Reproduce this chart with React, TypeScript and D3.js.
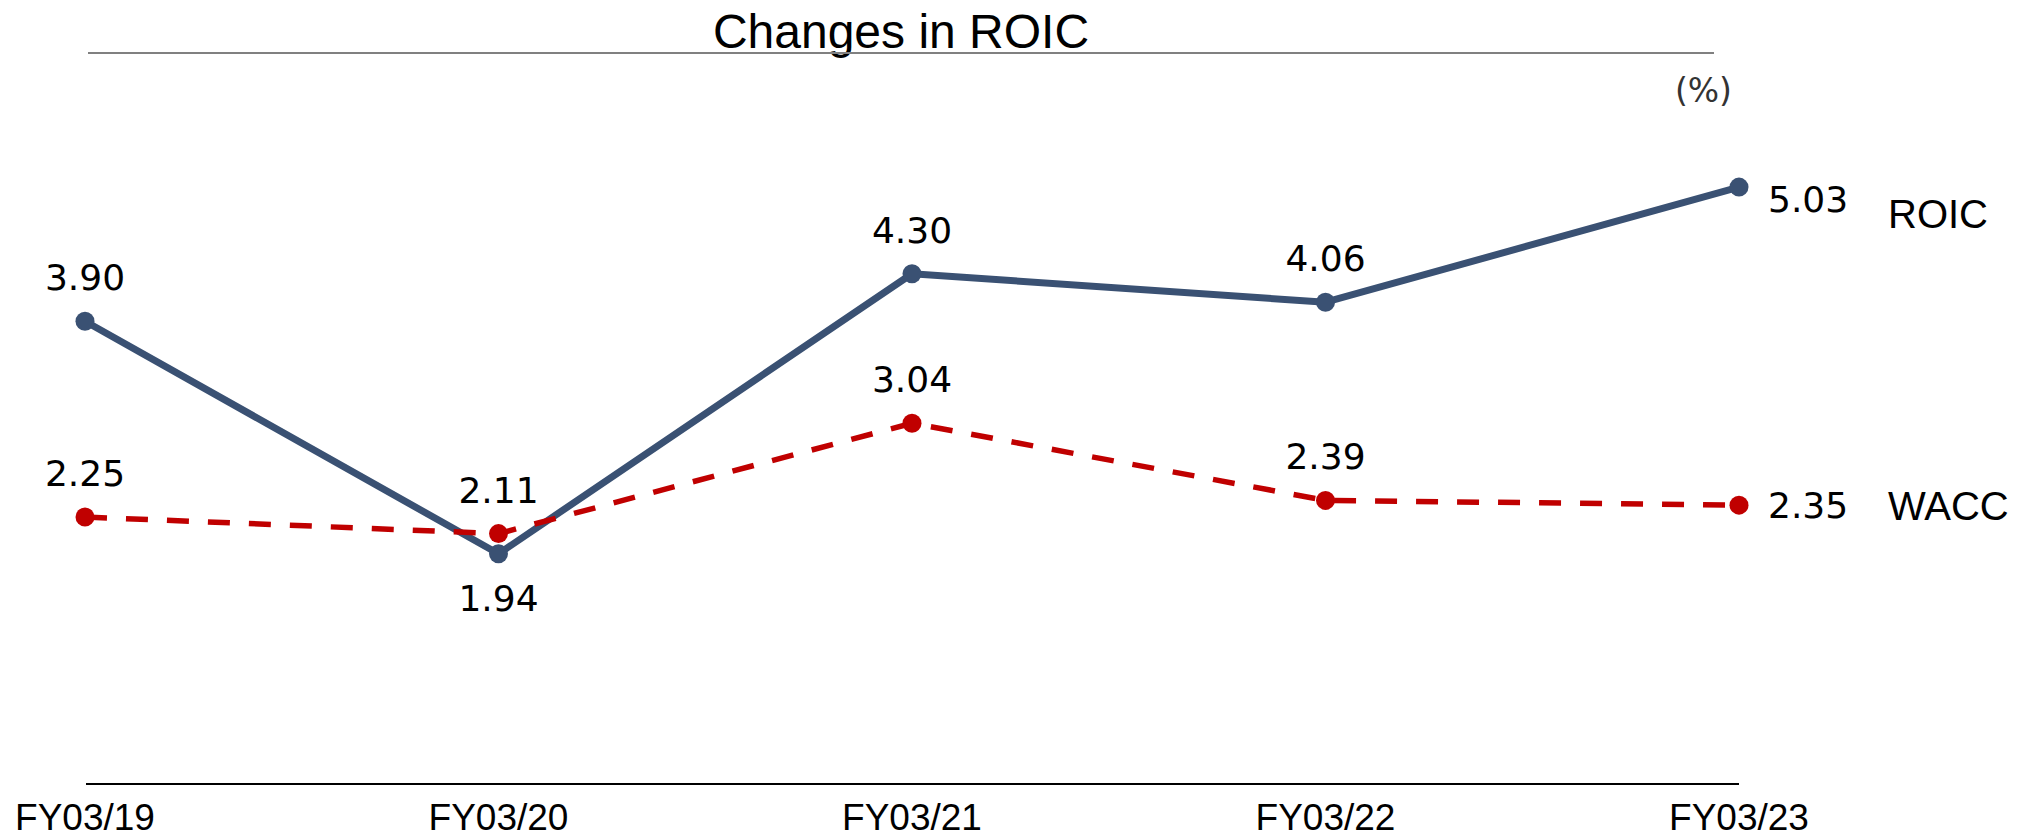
import React from "react";
import * as d3 from "d3";

const categories = ["FY03/19", "FY03/20", "FY03/21", "FY03/22", "FY03/23"];
const roicValues = [3.9, 1.94, 4.3, 4.06, 5.03];
const waccValues = [2.25, 2.11, 3.04, 2.39, 2.35];
const roicLabelPos = ["above", "below", "above", "above", "right"];
const waccLabelPos = ["above", "above", "above", "above", "right"];
const title = "Changes in ROIC";
const unitLabel = "(%)";

const W = 2039;
const H = 839;
const ROIC_COLOR = "#3A5173";
const WACC_COLOR = "#C00000";
const NUM_FONT = "'DejaVu Sans', Verdana, sans-serif";
const TXT_FONT = "'Liberation Sans', Arial, sans-serif";

export default function App() {
  const x = d3.scalePoint<string>().domain(categories).range([85, 1739]);
  const y = d3.scaleLinear().domain([0, 6]).range([784, 72]);

  const line = d3
    .line<number>()
    .x((_, i) => x(categories[i]) as number)
    .y((d) => y(d));

  const labelProps = (v: number, i: number, pos: string, seriesName: string) => {
    const cx = x(categories[i]) as number;
    const cy = y(v);
    if (pos === "above") return { x: cx, y: cy - 31, anchor: "middle" };
    if (pos === "below") return { x: cx, y: cy + 57, anchor: "middle" };
    return { x: cx + 29, y: cy + (seriesName === "ROIC" ? 25 : 13), anchor: "start" };
  };

  const series = [
    { name: "ROIC", values: roicValues, pos: roicLabelPos, color: ROIC_COLOR, dash: undefined, legendDy: 41 },
    { name: "WACC", values: waccValues, pos: waccLabelPos, color: WACC_COLOR, dash: "22 19", legendDy: 15 },
  ];

  const last = categories.length - 1;

  return (
    <svg
      width={W}
      height={H}
      style={{ position: "absolute", left: 0, top: 0, background: "#fff" }}
    >
      <text
        x={901}
        y={48}
        textAnchor="middle"
        fontFamily={TXT_FONT}
        fontSize={48}
        fill="#000"
      >
        {title}
      </text>
      <line x1={88} x2={1714} y1={53} y2={53} stroke="#808080" strokeWidth={2} />
      <text
        x={1732}
        y={102}
        textAnchor="end"
        fontFamily={NUM_FONT}
        fontSize={33}
        fill="#333"
      >
        {unitLabel}
      </text>

      <line x1={86} x2={1739} y1={y(0)} y2={y(0)} stroke="#000" strokeWidth={2} />
      {categories.map((c) => (
        <text
          key={c}
          x={x(c)}
          y={830}
          textAnchor="middle"
          fontFamily={TXT_FONT}
          fontSize={37}
          fill="#000"
        >
          {c}
        </text>
      ))}

      {series.map((s) => (
        <g key={s.name}>
          <path
            d={line(s.values) || ""}
            fill="none"
            stroke={s.color}
            strokeWidth={s.dash ? 5.5 : 7}
            strokeDasharray={s.dash}
            strokeLinejoin="round"
          />
          {s.values.map((v, i) => (
            <circle key={i} cx={x(categories[i])} cy={y(v)} r={9.5} fill={s.color} />
          ))}
        </g>
      ))}

      {series.map((s) =>
        s.values.map((v, i) => {
          const p = labelProps(v, i, s.pos[i], s.name);
          return (
            <text
              key={s.name + i}
              x={p.x}
              y={p.y}
              textAnchor={p.anchor as any}
              fontFamily={NUM_FONT}
              fontSize={36}
              fill="#000"
            >
              {v.toFixed(2)}
            </text>
          );
        })
      )}

      {series.map((s) => (
        <text
          key={"lg" + s.name}
          x={1888}
          y={y(s.values[last]) + s.legendDy}
          fontFamily={TXT_FONT}
          fontSize={40}
          fill="#000"
        >
          {s.name}
        </text>
      ))}
    </svg>
  );
}
